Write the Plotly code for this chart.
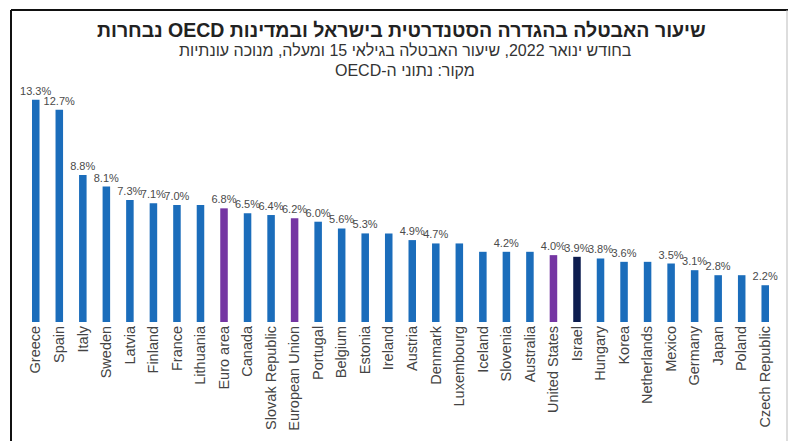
import plotly.graph_objects as go

# Unemployment rate, January 2022, ages 15+, seasonally adjusted (OECD)
countries = [
    "Greece", "Spain", "Italy", "Sweden", "Latvia", "Finland", "France",
    "Lithuania", "Euro area", "Canada", "Slovak Republic", "European Union",
    "Portugal", "Belgium", "Estonia", "Ireland", "Austria", "Denmark",
    "Luxembourg", "Iceland", "Slovenia", "Australia", "United States",
    "Israel", "Hungary", "Korea", "Netherlands", "Mexico", "Germany",
    "Japan", "Poland", "Czech Republic",
]
rates = [
    13.3, 12.7, 8.8, 8.1, 7.3, 7.1, 7.0,
    7.0, 6.8, 6.5, 6.4, 6.2,
    6.0, 5.6, 5.3, 5.3, 4.9, 4.7,
    4.7, 4.2, 4.2, 4.2, 4.0,
    3.9, 3.8, 3.6, 3.6, 3.5, 3.1,
    2.8, 2.8, 2.2,
]
# Bars that carry a value label
labelled = [
    True, True, True, True, True, True, True,
    False, True, True, True, True,
    True, True, True, False, True, True,
    False, False, True, False, True,
    True, True, True, False, True, True,
    True, False, True,
]
aggregates = ["Euro area", "European Union", "United States"]
home = "Israel"

BLUE = "#1b6dbb"
PURPLE = "#7536a3"
NAVY = "#0d1d4f"

colors = []
for c in countries:
    if c == home:
        colors.append(NAVY)
    elif c in aggregates:
        colors.append(PURPLE)
    else:
        colors.append(BLUE)

labels = [f"{v:.1f}%" if show else "" for v, show in zip(rates, labelled)]

W, H = 790, 441
ML, MR, MT, MB = 24, 13, 88, 119
PW, PH = W - ML - MR, H - MT - MB


def px_x(x):
    return (x - ML) / PW


def px_y(y):
    return (H - MB - y) / PH


FONT = "Liberation Sans, Arial, sans-serif"

fig = go.Figure(
    go.Bar(
        x=countries,
        y=rates,
        width=0.32,
        marker=dict(color=colors, line=dict(width=0)),
        text=labels,
        textposition="outside",
        constraintext="none",
        textfont=dict(family=FONT, size=11, color="#4a4a4a"),
        cliponaxis=False,
        hoverinfo="x+y",
    )
)

RLE, PDF = "\u202B", "\u202C"
annotations = [
    dict(text=RLE + "<b>שיעור האבטלה בהגדרה הסטנדרטית בישראל ובמדינות OECD נבחרות</b>" + PDF,
         x=px_x(401), y=px_y(30), font=dict(size=19.5, color="#222222", family=FONT)),
    dict(text=RLE + "בחודש ינואר 2022, שיעור האבטלה בגילאי 15 ומעלה, מנוכה עונתיות" + PDF,
         x=px_x(405), y=px_y(51), font=dict(size=16, color="#333333", family=FONT)),
    dict(text=RLE + "מקור: נתוני ה-OECD" + PDF,
         x=px_x(405), y=px_y(70), font=dict(size=16, color="#333333", family=FONT)),
]
for a in annotations:
    a.update(xref="paper", yref="paper", xanchor="center", yanchor="middle", showarrow=False)

shapes = [
    # frame: top and left in black, right edge in light grey
    dict(type="line", xref="paper", yref="paper",
         x0=px_x(11), x1=px_x(788), y0=px_y(10), y1=px_y(10),
         line=dict(color="#111111", width=2)),
    dict(type="line", xref="paper", yref="paper",
         x0=px_x(11), x1=px_x(11), y0=px_y(10), y1=px_y(445),
         line=dict(color="#111111", width=2)),
    dict(type="line", xref="paper", yref="paper",
         x0=px_x(787), x1=px_x(787), y0=px_y(10), y1=px_y(445),
         line=dict(color="#bbbbbb", width=1)),
]

fig.update_layout(
    width=W,
    height=H,
    margin=dict(l=ML, r=MR, t=MT, b=MB, pad=0),
    paper_bgcolor="white",
    plot_bgcolor="white",
    showlegend=False,
    annotations=annotations,
    shapes=shapes,
    xaxis=dict(
        tickangle=-90,
        tickfont=dict(family=FONT, size=14.5, color="#444444"),
        showline=False,
        showgrid=False,
        ticks="",
        range=[-0.5, len(countries) - 0.5],
        automargin=False,
    ),
    yaxis=dict(
        range=[0, 14],
        visible=False,
        showgrid=False,
        zeroline=False,
    ),
)

fig.write_html("out.html")
